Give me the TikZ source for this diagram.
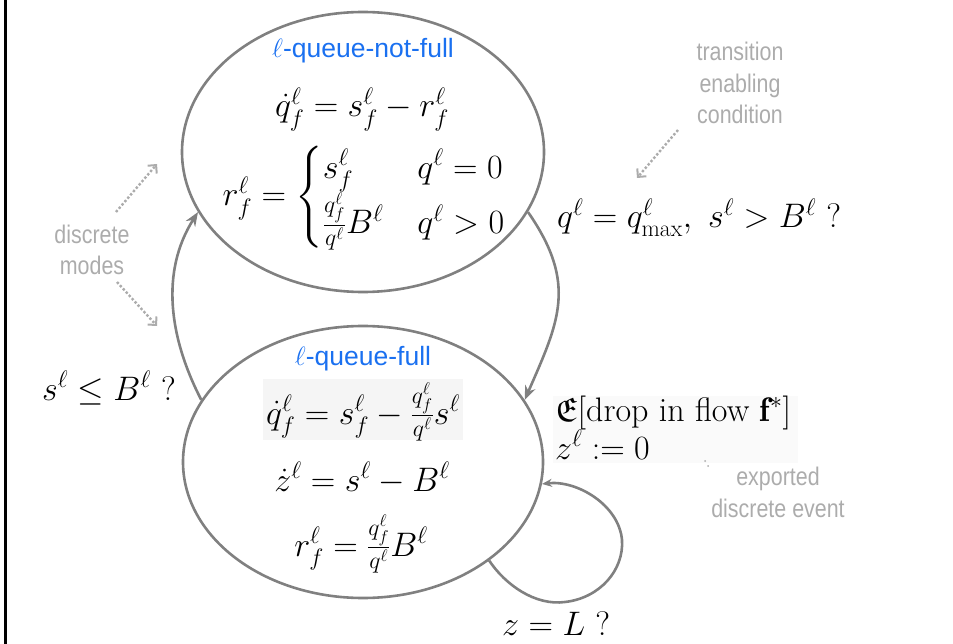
\RequirePackage{fix-cm}
\documentclass[tikz,border=0pt]{standalone}
\usepackage{amsmath,amssymb}
\usepackage{fontspec}
\setsansfont{Liberation Sans}
\newfontfamily\notefont[FakeStretch=0.84]{Liberation Sans}
\usetikzlibrary{arrows.meta,shapes.geometric}
\definecolor{edgegray}{RGB}{128,128,128}
\definecolor{notegray}{RGB}{172,172,172}
\definecolor{modeblue}{RGB}{26,112,240}
\definecolor{bgshade}{RGB}{245,245,245}
\definecolor{bgshadeb}{RGB}{250,250,250}
\tikzset{
  mode/.style={draw=edgegray, line width=2.6pt, ellipse, inner sep=0pt},
  mathtxt/.style={font=\fontsize{34}{40}\selectfont, inner sep=0pt, anchor=base},
  modename/.style={font=\sffamily\fontsize{26.5}{32}\selectfont, text=modeblue, inner sep=0pt, anchor=base},
  note/.style={font=\notefont\fontsize{25.5}{32}\selectfont, text=notegray, inner sep=0pt, anchor=base, align=center},
  trans/.style={draw=edgegray, line width=2.6pt, -{Stealth[length=14pt,width=11pt]}},
  pointer/.style={draw=notegray, line width=2.4pt, dotted, -{Straight Barb[length=6pt,width=12pt,line width=2pt]}},
}
\begin{document}
\begin{tikzpicture}[x=1pt,y=-1pt]
\useasboundingbox (0,0) rectangle (953,644);
\draw[line width=2.4pt] (5.3,0) -- (5.3,644);
% faint backgrounds
\fill[bgshade] (263,379) rectangle (463,440);
\fill[bgshadeb] (553,396) rectangle (798,463);
% modes
\node[mode, minimum width=362pt, minimum height=280pt] (top) at (363,152) {};
\node[mode, minimum width=360pt, minimum height=272pt] (bot) at (363,462) {};
% top mode content
\node[modename] (tname) at (363,58) {$\ell$-queue-not-full};
\node[mathtxt] (teq1) at (362,117) {$\dot q^\ell_f = s^\ell_f - r^\ell_f$};
\node[mathtxt] (teq2) at (364,206) {$r^\ell_f = \begin{cases} s^\ell_f & q^\ell = 0\\ \frac{q^\ell_f}{q^\ell}B^\ell & q^\ell > 0\end{cases}$};
% bottom mode content
\node[modename] (bname) at (363,365) {$\ell$-queue-full};
\node[mathtxt] (beq1) at (363,424) {$\dot q^\ell_f = s^\ell_f - \frac{q^\ell_f}{q^\ell}s^\ell$};
\node[mathtxt] (beq2) at (362,491) {$\dot z^\ell = s^\ell - B^\ell$};
\node[mathtxt] (beq3) at (361,556) {$r^\ell_f = \frac{q^\ell_f}{q^\ell}B^\ell$};
% transitions
\draw[trans] (bot.159) .. controls +(-32,-62) and +(-38,60) .. (top.200);
\draw[trans] (top.340) .. controls +(50,72) and +(34,-78) .. (bot.21);
\coordinate (l1) at (565,602);
\coordinate (l2) at (622,540);
\draw[draw=edgegray, line width=2.6pt, -{Stealth[length=10pt,width=8pt]}]
  (bot.322) .. controls +(16,24) and +(-30,4) .. (l1)
  .. controls +(35,-4) and +(2,30) .. (l2)
  .. controls +(-3,-35) and +(35,-4) .. (bot.353);
% guard and action labels
\node[mathtxt, anchor=base west] (g1) at (557,228) {$q^\ell = q^\ell_{\max},\ s^\ell > B^\ell\ ?$};
\node[mathtxt, anchor=base west] (g2) at (42,400) {$s^\ell \le B^\ell\ ?$};
\node[mathtxt, anchor=base west] (g3) at (502,635) {$z = L\ ?$};
\node[mathtxt, anchor=base west] (a1) at (555,421) {$\mathfrak{E}[\text{drop in flow }\mathbf{f}^*]$};
\node[mathtxt, anchor=base west] (a2) at (555,459) {$z^\ell := 0$};
% notes
\node[note] (n1) at (740,61) {transition};
\node[note] (n2) at (740,93) {enabling};
\node[note] (n3) at (740,124) {condition};
\node[note] (n4) at (92,244) {discrete};
\node[note] (n5) at (92,275) {modes};
\node[note] (n6) at (778,485) {exported};
\node[note] (n7) at (778,517) {discrete event};
% pointers
\coordinate (p1s) at (678,130); \coordinate (p1e) at (637,178);
\coordinate (p2s) at (116,212); \coordinate (p2e) at (157,164);
\coordinate (p3s) at (117,282); \coordinate (p3e) at (157,326);
\draw[pointer] (p1s) -- (p1e);
\draw[pointer] (p2s) -- (p2e);
\draw[pointer] (p3s) -- (p3e);
\fill[notegray] (705,461) circle (1pt) (708,466) circle (1pt);
\end{tikzpicture}
\end{document}
